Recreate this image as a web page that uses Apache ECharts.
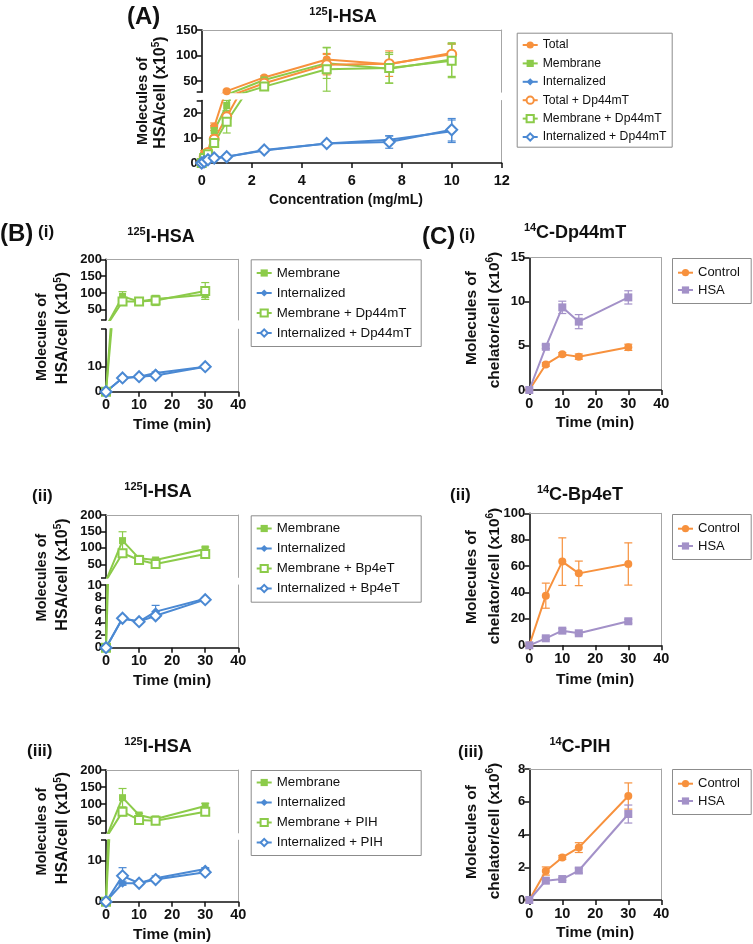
<!DOCTYPE html>
<html><head><meta charset="utf-8">
<script src="https://cdn.jsdelivr.net/npm/echarts@6/dist/echarts.min.js"></script>
<style>html,body{margin:0;padding:0;background:#fff}#c{width:753px;height:944px}</style>
</head><body><div id="c"></div>
<script>
// ================= DATA =================
// Panel A : 125I-HSA vs concentration
const concA = [0, 0.1, 0.25, 0.5, 1, 2.5, 5, 7.5, 10];
const totalA = [0, 4, 4.5, 14.5, 30, 57, 92, 83, 105];
const totalA_sd = [0, 1, 1, 1.5, 2, 3, 12, 3, 18];
const membraneA = [0, 3, 4, 13, 23, 52, 85, 74, 92];
const membraneA_sd = [0, 1, 1, 2, 2, 3, 30, 28, 33];
const internalA = [0, 0.5, 1.3, 2, 2.5, 5, 7.8, 9.3, 12.7];
const internalA_sd = [0, 0.3, 0.3, 0.3, 0.5, 0.5, 0.5, 1.5, 4.5];
const totalDpA = [0, 2.5, 4.2, 9.5, 18.5, 45.5, 82, 84, 102.5];
const totalDpA_sd = [0, 0.5, 0.5, 1, 2, 3, 20, 25, 20];
const membraneDpA = [0, 2, 3.5, 8, 16.5, 39, 73, 75.5, 89.5];
const membraneDpA_sd = [0, 0.5, 0.5, 1, 4.5, 3, 43, 30, 33];
const internalDpA = [0, 0.5, 1.3, 2, 2.5, 5.2, 7.8, 8.4, 13.3];
const internalDpA_sd = [0, 0.3, 0.3, 0.3, 0.5, 0.5, 0.5, 2.5, 4.5];

// Panels B and C : time course (min)
const timeMin = [0, 5, 10, 15, 30];
// B(i)
const memB1 = [0, 90, 75, 82, 95];      const memB1_sd = [0, 14, 3, 10, 8];
const memDpB1 = [0, 75, 75, 78, 106];   const memDpB1_sd = [0, 8, 3, 15, 25];
const intB1 = [0, 5.5, 6.0, 7.5, 10];   const intB1_sd = [0, 0.3, 0.3, 0.4, 0.3];
const intDpB1 = [0, 5.5, 6.0, 6.5, 10]; const intDpB1_sd = [0, 0.3, 0.3, 0.4, 0.3];
// B(ii)
const memB2 = [0, 122, 68, 63, 96.6];     const memB2_sd = [0, 27, 5, 5, 6];
const memBpB2 = [0, 83.5, 63, 51, 81.4];  const memBpB2_sd = [0, 10, 4, 5, 5];
const intB2 = [0, 4.7, 4.15, 5.75, 7.8];  const intB2_sd = [0, 0.2, 0.2, 1.0, 0.2];
const intBpB2 = [0, 4.7, 4.15, 5.1, 7.66];const intBpB2_sd = [0, 0.2, 0.2, 0.4, 0.2];
// B(iii)
const memB3 = [0, 118.6, 67.6, 56, 94];   const memB3_sd = [0, 27, 5, 5, 8];
const memPB3 = [0, 77.5, 53, 51, 77.5];   const memPB3_sd = [0, 12, 4, 5, 5];
const intB3 = [0, 4.5, 4.5, 5.7, 8.0];    const intB3_sd = [0, 0.5, 0.3, 0.6, 0.3];
const intPB3 = [0, 6.3, 4.5, 5.4, 7.2];   const intPB3_sd = [0, 2.0, 0.3, 0.5, 0.3];
// C(i) 14C-Dp44mT
const ctrlC1 = [0, 2.9, 4.04, 3.78, 4.84]; const ctrlC1_sd = [0, 0.2, 0.2, 0.3, 0.35];
const hsaC1 = [0, 4.9, 9.37, 7.75, 10.5];  const hsaC1_sd = [0, 0.2, 0.7, 0.8, 0.75];
// C(ii) 14C-Bp4eT
const ctrlC2 = [0, 37.6, 63.4, 54.5, 61.6]; const ctrlC2_sd = [0, 9.5, 18, 9.3, 16];
const hsaC2 = [0, 5.3, 11.1, 9.1, 18.2];    const hsaC2_sd = [0, 1, 1.5, 1, 1.5];
// C(iii) 14C-PIH
const ctrlC3 = [0, 1.77, 2.6, 3.2, 6.35];  const ctrlC3_sd = [0, 0.25, 0.12, 0.3, 0.8];
const hsaC3 = [0, 1.18, 1.28, 1.8, 5.25];  const hsaC3_sd = [0, 0.15, 0.08, 0.15, 0.55];

// Tick label values
const ticksA_upper = [50, 100, 150];
const ticksA_lower = [0, 10, 20];
const ticksB_upper = [50, 100, 150, 200];
const ticksB1_lower = [0, 10];
const ticksB2_lower = [0, 2, 4, 6, 8, 10];
const ticksB3_lower = [0, 10];
const ticksC1 = [0, 5, 10, 15];
const ticksC2 = [0, 20, 40, 60, 80, 100];
const ticksC3 = [0, 2, 4, 6, 8];

// ================= STYLE / BUILD =================
const FONT = '"Liberation Sans", Arial, Helvetica, sans-serif';
const INK = '#111';
const FRAME = '#a6a6a6';
const COL = {orange: '#F7913D', green: '#8CCB4A', blue: '#4B89D3', purple: '#A391C8'};
const ST = {
  total: {symbol: 'circle', size: 8, color: COL.orange},
  mem: {symbol: 'rect', size: 7, color: COL.green},
  int: {symbol: 'diamond', size: 9, color: COL.blue},
  totalDp: {symbol: 'emptyCircle', size: 9, color: COL.orange, empty: true},
  memDp: {symbol: 'emptyRect', size: 8, color: COL.green, empty: true},
  intDp: {symbol: 'emptyDiamond', size: 11, color: COL.blue, empty: true},
  ctrl: {symbol: 'circle', size: 8, color: COL.orange},
  hsa: {symbol: 'rect', size: 8, color: COL.purple}
};

const grids = [], xAxes = [], yAxes = [], series = [], legends = [], graphics = [];

function yLabelAxis(gi, o, labels, withLine, ticks) {
  return {
    gridIndex: gi, type: 'value', min: o.ymin, max: o.ymax, position: 'left',
    axisLine: {show: withLine, onZero: false, lineStyle: {color: INK, width: 1.6}},
    axisTick: {show: !!ticks, length: 5, inside: false, customValues: ticks || [], lineStyle: {color: INK, width: 1.5}},
    axisLabel: {show: true, interval: 0, showMinLabel: true, showMaxLabel: true, hideOverlap: false, customValues: labels,
      fontFamily: FONT, fontWeight: 'bold', fontSize: 13, color: INK, margin: 4},
    splitLine: {show: false}
  };
}

function addSegment(o) {
  const gi = grids.length;
  grids.push({left: o.left, top: o.top, width: o.width, height: o.height, show: false, outerBoundsMode: 'none', containLabel: false});
  const xi = xAxes.length;
  xAxes.push({
    gridIndex: gi, type: 'value', min: o.xmin, max: o.xmax, interval: o.xint, position: 'bottom', show: o.showX,
    axisLine: {show: true, onZero: false, lineStyle: {color: INK, width: 1.6}},
    axisTick: {show: true, length: 5, inside: false, lineStyle: {color: INK, width: 1.5}},
    axisLabel: {show: true, showMinLabel: true, showMaxLabel: true, fontFamily: FONT, fontWeight: 'bold', fontSize: 14.5, color: INK, margin: o.xMargin || 6},
    splitLine: {show: false}
  });
  if (o.topFrame) {
    xAxes.push({gridIndex: gi, type: 'value', min: o.xmin, max: o.xmax, position: 'top',
      axisLine: {show: true, onZero: false, lineStyle: {color: FRAME, width: 1}},
      axisTick: {show: false}, axisLabel: {show: false}, splitLine: {show: false}});
  }
  const yi = yAxes.length;
  // densely spaced tick labels are split over two label-only axes so none is dropped
  if (o.splitLabels) {
    const even = o.labelVals.filter((v, i) => i % 2 === 0);
    const odd = o.labelVals.filter((v, i) => i % 2 === 1);
    yAxes.push(yLabelAxis(gi, o, even, true, o.tickVals));
    yAxes.push(yLabelAxis(gi, o, odd, false, null));
  } else {
    yAxes.push(yLabelAxis(gi, o, o.labelVals, true, o.tickVals));
  }
  yAxes.push({gridIndex: gi, type: 'value', min: o.ymin, max: o.ymax, position: 'right',
    axisLine: {show: true, onZero: false, lineStyle: {color: FRAME, width: 1}},
    axisTick: {show: false}, axisLabel: {show: false}, splitLine: {show: false}});
  return {xi: xi, yi: yi, ymin: o.ymin, ymax: o.ymax};
}

function errRender(color) {
  return function (params, api) {
    const x = api.value(0), y = api.value(1), e = api.value(2);
    if (!e) return null;
    const cs = params.coordSys;
    const p1 = api.coord([x, y + e]);
    const p2 = api.coord([x, y - e]);
    const top = cs.y, bot = cs.y + cs.height;
    let y1 = p1[1], y2 = p2[1];
    if (y2 < top - 0.5 || y1 > bot + 0.5) return null;
    const capTop = y1 >= top - 0.5, capBot = y2 <= bot + 0.5;
    y1 = Math.max(y1, top); y2 = Math.min(y2, bot);
    const px = p1[0], w = 4;
    const st = {stroke: color, lineWidth: 1.2};
    const ch = [{type: 'line', shape: {x1: px, y1: y1, x2: px, y2: y2}, style: st}];
    if (capTop) ch.push({type: 'line', shape: {x1: px - w, y1: y1, x2: px + w, y2: y1}, style: st});
    if (capBot) ch.push({type: 'line', shape: {x1: px - w, y1: y2, x2: px + w, y2: y2}, style: st});
    return {type: 'group', children: ch};
  };
}

// a series lying wholly outside a broken-axis segment is not drawn in it
function visibleIn(seg, ys) {
  return Math.max.apply(null, ys) >= seg.ymin && Math.min.apply(null, ys) <= seg.ymax;
}
function addErr(seg, name, xs, ys, sd, st) {
  series.push({
    type: 'custom', name: name + ' (SD)', coordinateSystem: 'cartesian2d',
    xAxisIndex: seg.xi, yAxisIndex: seg.yi, silent: true, z: 2,
    data: xs.map((x, i) => [x, ys[i], sd[i]]), renderItem: errRender(st.color)
  });
}
function addLine(seg, name, xs, ys, st) {
  series.push({
    type: 'line', name: name, xAxisIndex: seg.xi, yAxisIndex: seg.yi, clip: true, z: 3,
    data: xs.map((x, i) => [x, ys[i]]), symbol: st.symbol, symbolSize: st.size, showSymbol: true, showAllSymbol: true,
    lineStyle: {color: st.color, width: 2},
    itemStyle: {color: st.color, borderColor: st.color, borderWidth: st.empty ? 2 : 0},
    emphasis: {disabled: true}
  });
}
function addPanel(segs, defs, xs) {
  segs.forEach(seg => defs.forEach(d => { if (visibleIn(seg, d[1])) addErr(seg, d[0], xs, d[1], d[2], d[3]); }));
  segs.forEach(seg => defs.forEach(d => { if (visibleIn(seg, d[1])) addLine(seg, d[0], xs, d[1], d[3]); }));
}
function addLegend(names, box, firstCenter, lh, gap, fs) {
  graphics.push({type: 'rect', silent: true, z: 0,
    shape: {x: box[0] + 0.5, y: box[1] + 0.5, width: box[2], height: box[3]},
    style: {fill: '#fff', stroke: '#8c8c8c', lineWidth: 1}});
  legends.push({
    show: true, orient: 'vertical', left: box[0] + 5, top: firstCenter - lh / 2, data: names, selectedMode: false,
    itemWidth: 15, itemHeight: 9, itemGap: gap, padding: 0, borderWidth: 0, z: 5,
    textStyle: {fontFamily: FONT, fontSize: fs, color: INK, lineHeight: lh}
  });
}
function text(str, x, y, size, opt) {
  opt = opt || {};
  graphics.push({
    type: 'text', x: x, y: y, rotation: opt.rot || 0, silent: true, z: 10,
    style: {text: str, fontFamily: FONT, fontWeight: 'bold', fontSize: size, fill: INK,
      align: opt.align || 'center', verticalAlign: 'middle', rich: opt.rich}
  });
}
function supText(pre, sup, post, x, y, size, supSize, rot) {
  const lh = Math.round(size * 1.2);
  text('{m|' + pre + '}{s|' + sup + '}{m|' + post + '}', x, y, size, {
    rot: rot,
    rich: {
      m: {fontFamily: FONT, fontWeight: 'bold', fontSize: size, lineHeight: lh, fill: INK},
      s: {fontFamily: FONT, fontWeight: 'bold', fontSize: supSize, lineHeight: supSize + 1, verticalAlign: 'top', fill: INK}
    }
  });
}
function titleIso(mass, rest, x, y) {
  supText('', mass, rest, x, y, 18, 11, 0);
}
const ROT = Math.PI / 2;

// ---------- Panel A ----------
const aX = {left: 201.7, width: 300, xmin: 0, xmax: 12, xint: 2, xMargin: 10};
const aU = addSegment(Object.assign({}, aX, {top: 30, height: 62.2, ymin: 28, ymax: 150, labelVals: ticksA_upper, tickVals: [28].concat(ticksA_upper), showX: false, topFrame: true}));
const aL = addSegment(Object.assign({}, aX, {top: 100.5, height: 62.5, ymin: 0, ymax: 25, labelVals: ticksA_lower, tickVals: ticksA_lower.concat([25]), showX: true}));
addPanel([aU, aL], [
  ['Total', totalA, totalA_sd, ST.total],
  ['Membrane', membraneA, membraneA_sd, ST.mem],
  ['Internalized', internalA, internalA_sd, ST.int],
  ['Total + Dp44mT', totalDpA, totalDpA_sd, ST.totalDp],
  ['Membrane + Dp44mT', membraneDpA, membraneDpA_sd, ST.memDp],
  ['Internalized + Dp44mT', internalDpA, internalDpA_sd, ST.intDp]
], concA);
addLegend(['Total', 'Membrane', 'Internalized', 'Total + Dp44mT', 'Membrane + Dp44mT', 'Internalized + Dp44mT'],
  [516.7, 32.7, 155, 114], 45, 14, 4.4, 12.2);
text('(A)', 127, 17, 24, {align: 'left'});
titleIso('125', 'I-HSA', 343, 17);
text('Molecules of', 143, 101, 14.5, {rot: ROT});
supText('HSA/cell (x10', '5', ')', 161, 92.5, 16, 10, ROT);
text('Concentration (mg/mL)', 346, 200, 14);

// ---------- Panels B ----------
const bX = {left: 106, width: 132.3, xmin: 0, xmax: 40, xint: 10};
function panelB(cfg) {
  const u = addSegment(Object.assign({}, bX, {top: cfg.uTop, height: cfg.uH, ymin: cfg.uMin, ymax: 200, labelVals: ticksB_upper, tickVals: [cfg.uMin].concat(ticksB_upper), showX: false, topFrame: true}));
  const l = addSegment(Object.assign({}, bX, {top: cfg.lTop, height: cfg.lH, ymin: 0, ymax: cfg.lMax, labelVals: cfg.lTicks, tickVals: cfg.lTicks.concat([cfg.lMax]), showX: true, splitLabels: cfg.lTicks.length > 4}));
  addPanel([u, l], cfg.defs, timeMin);
}
panelB({uTop: 259.3, uH: 60.7, uMin: 20, lTop: 329.2, lH: 62.5, lMax: 25, lTicks: ticksB1_lower, defs: [
  ['Membrane', memB1, memB1_sd, ST.mem], ['Internalized', intB1, intB1_sd, ST.int],
  ['Membrane + Dp44mT', memDpB1, memDpB1_sd, ST.memDp], ['Internalized + Dp44mT', intDpB1, intDpB1_sd, ST.intDp]]});
panelB({uTop: 515, uH: 62.4, uMin: 10, lTop: 585, lH: 62.7, lMax: 10, lTicks: ticksB2_lower, defs: [
  ['Membrane', memB2, memB2_sd, ST.mem], ['Internalized', intB2, intB2_sd, ST.int],
  ['Membrane + Bp4eT', memBpB2, memBpB2_sd, ST.memDp], ['Internalized + Bp4eT', intBpB2, intBpB2_sd, ST.intDp]]});
panelB({uTop: 770, uH: 62.9, uMin: 15, lTop: 840.2, lH: 61.5, lMax: 15, lTicks: ticksB3_lower, defs: [
  ['Membrane', memB3, memB3_sd, ST.mem], ['Internalized', intB3, intB3_sd, ST.int],
  ['Membrane + PIH', memPB3, memPB3_sd, ST.memDp], ['Internalized + PIH', intPB3, intPB3_sd, ST.intDp]]});
addLegend(['Membrane', 'Internalized', 'Membrane + Dp44mT', 'Internalized + Dp44mT'], [250.7, 259.3, 170, 86.7], 273, 15, 5, 13.3);
addLegend(['Membrane', 'Internalized', 'Membrane + Bp4eT', 'Internalized + Bp4eT'], [250.7, 515.3, 170, 86.4], 528.5, 15, 5, 13.3);
addLegend(['Membrane', 'Internalized', 'Membrane + PIH', 'Internalized + PIH'], [250.7, 770, 170, 85], 782.5, 15, 5, 13.3);
text('(B)', 0, 234, 24, {align: 'left'});
text('(i)', 38, 232, 17, {align: 'left'});
text('(ii)', 32, 496, 17, {align: 'left'});
text('(iii)', 27, 751, 17, {align: 'left'});
titleIso('125', 'I-HSA', 161, 237);
titleIso('125', 'I-HSA', 158, 492);
titleIso('125', 'I-HSA', 158, 747);
[[337, 328], [577.5, 574.5], [831.5, 828]].forEach(c => {
  text('Molecules of', 42, c[0], 14.5, {rot: ROT});
  supText('HSA/cell (x10', '5', ')', 63, c[1], 16, 10, ROT);
});
text('Time (min)', 172, 425, 15.5);
text('Time (min)', 172, 681, 15.5);
text('Time (min)', 172, 935, 15.5);

// ---------- Panels C ----------
const cX = {left: 529.3, width: 132, xmin: 0, xmax: 40, xint: 10, showX: true, topFrame: true};
function panelC(cfg) {
  const seg = addSegment(Object.assign({}, cX, {top: cfg.top, height: cfg.h, ymin: 0, ymax: cfg.max, labelVals: cfg.ticks, tickVals: cfg.ticks}));
  addPanel([seg], [['Control', cfg.ctrl, cfg.ctrlSd, ST.ctrl], ['HSA', cfg.hsa, cfg.hsaSd, ST.hsa]], timeMin);
}
panelC({top: 257.7, h: 132.3, max: 15, ticks: ticksC1, ctrl: ctrlC1, ctrlSd: ctrlC1_sd, hsa: hsaC1, hsaSd: hsaC1_sd});
panelC({top: 513.3, h: 132, max: 100, ticks: ticksC2, ctrl: ctrlC2, ctrlSd: ctrlC2_sd, hsa: hsaC2, hsaSd: hsaC2_sd});
panelC({top: 769, h: 131, max: 8, ticks: ticksC3, ctrl: ctrlC3, ctrlSd: ctrlC3_sd, hsa: hsaC3, hsaSd: hsaC3_sd});
addLegend(['Control', 'HSA'], [672, 258, 78.7, 45], 272.7, 14, 3.3, 13);
addLegend(['Control', 'HSA'], [672, 514, 78.7, 45], 528.7, 14, 3.3, 13);
addLegend(['Control', 'HSA'], [672, 769, 78.7, 45], 783.7, 14, 3.3, 13);
text('(C)', 422, 237, 24, {align: 'left'});
text('(i)', 459, 235, 17, {align: 'left'});
text('(ii)', 450, 495, 17, {align: 'left'});
text('(iii)', 458, 752, 17, {align: 'left'});
titleIso('14', 'C-Dp44mT', 575, 233);
titleIso('14', 'C-Bp4eT', 580, 495);
titleIso('14', 'C-PIH', 580, 747);
[[318, 320], [577, 576], [832, 831]].forEach(c => {
  text('Molecules of', 472, c[0], 15.5, {rot: ROT});
  supText('chelator/cell (x10', '6', ')', 495, c[1], 15.5, 10, ROT);
});
text('Time (min)', 595, 423, 15.5);
text('Time (min)', 595, 680, 15.5);
text('Time (min)', 595, 933, 15.5);

const chart = echarts.init(document.getElementById('c'), null, {renderer: 'canvas'});
chart.setOption({
  animation: false,
  backgroundColor: '#fff',
  textStyle: {fontFamily: FONT},
  grid: grids, xAxis: xAxes, yAxis: yAxes, series: series, legend: legends,
  tooltip: {show: false},
  graphic: graphics
});
</script></body></html>
